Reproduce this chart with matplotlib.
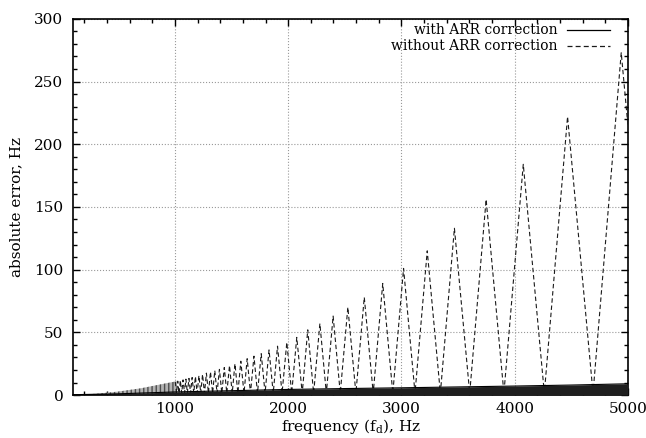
import numpy as np
import matplotlib
matplotlib.use('Agg')
import matplotlib.pyplot as plt
from matplotlib.lines import Line2D
from matplotlib.ticker import MultipleLocator

plt.rcParams['font.family'] = ['DejaVu Serif']
plt.rcParams['mathtext.fontset'] = 'dejavuserif'

# without ARR correction: turning points (Hz, Hz)
peak_freq = [4941, 4467, 4076, 3748, 3468, 3228, 3019, 2835, 2672, 2527,
             2397, 2280, 2173, 2076, 1988, 1906, 1831, 1762, 1698, 1638,
             1582, 1530, 1482, 1436, 1393, 1352, 1314, 1278, 1244, 1212,
             1181, 1152, 1124, 1097, 1072, 1048, 1025, 1003]
peak_err = [273, 222, 184, 156, 133, 115, 101, 89, 78, 70,
            63, 57, 52, 46, 42, 39, 36, 33, 31, 29,
            27, 25, 23.5, 22, 20.5, 19.5, 18.5, 17.5, 16.5, 15.5,
            14.8, 14, 13.3, 12.7, 12.1, 11.6, 11.1, 10.6]
trough_freq = [4692, 4262, 3905, 3603, 3344, 3120, 2924, 2751, 2598, 2460,
               2337, 2225, 2124, 2031, 1946, 1868, 1796, 1729, 1667, 1610,
               1556, 1506, 1458, 1414, 1372, 1333, 1296, 1261, 1228, 1196,
               1166, 1138, 1110, 1085, 1060, 1036, 1014]
trough_err = [1.5] * len(trough_freq)
end_freq, end_err = 5000, 215

# dense low-frequency part of the same curve (envelope only)
low_freq = [100, 300, 500, 700, 900, 1014]
low_err = [0.1, 1.0, 2.8, 5.4, 9.0, 11.0]

# with ARR correction: dense band, upper envelope
arr_freq = [100, 500, 1000, 1500, 2000, 2500, 3000, 3500, 4000, 4500, 5000]
arr_err = [0.3, 1.0, 2.5, 3.5, 4.5, 5.2, 5.8, 6.5, 7.2, 8.0, 9.0]

fig = plt.figure(figsize=(6.46, 4.38), dpi=100)
ax = fig.add_axes([0.113, 0.098, 0.859, 0.859])

# build dashed curve from turning points
pts = sorted(list(zip(peak_freq, peak_err)) + list(zip(trough_freq, trough_err))
             + [(end_freq, end_err)])
fx = [p[0] for p in pts]
fy = [p[1] for p in pts]

ax.fill_between(low_freq, 0, low_err, facecolor='0.7', edgecolor='0.3',
                hatch='||||', lw=0, zorder=2)
ax.plot(fx, fy, color='0.1', lw=0.8, dashes=(4, 2.5), zorder=3)

ax.fill_between(arr_freq, 0, arr_err, color='0.12', lw=0, zorder=4)
ax.plot(arr_freq, arr_err, color='black', lw=0.8, zorder=4)

ax.set_xlim(100, 5000)
ax.set_ylim(0, 300)
ax.xaxis.set_major_locator(MultipleLocator(1000))
ax.xaxis.set_minor_locator(MultipleLocator(200))
ax.yaxis.set_major_locator(MultipleLocator(50))
ax.yaxis.set_minor_locator(MultipleLocator(10))
ax.tick_params(which='both', direction='in', top=True, right=True,
               labelsize=11, width=1.0)
ax.tick_params(axis='x', pad=5)
ax.tick_params(axis='y', pad=7)
ax.tick_params(which='major', length=5)
ax.tick_params(which='minor', length=3)
ax.grid(True, which='major', color='0.6', linestyle=':', linewidth=0.8)
ax.set_axisbelow(True)
for s in ax.spines.values():
    s.set_linewidth(1.2)

ax.set_xlabel(r'frequency (f$_\mathrm{d}$), Hz', fontsize=11, labelpad=1)
ax.set_ylabel('absolute error, Hz', fontsize=11, labelpad=8)

# gnuplot-style key, text right-aligned with line sample after it
ax.text(0.874, 0.971, 'with ARR correction', transform=ax.transAxes,
        ha='right', va='center', fontsize=10)
ax.text(0.874, 0.928, 'without ARR correction', transform=ax.transAxes,
        ha='right', va='center', fontsize=10)
ax.add_line(Line2D([0.89, 0.968], [0.971, 0.971], transform=ax.transAxes,
                   color='black', lw=0.9))
ax.add_line(Line2D([0.89, 0.968], [0.928, 0.928], transform=ax.transAxes,
                   color='0.1', lw=0.9, dashes=(4, 2.5)))

fig.savefig('out.png', dpi=100)
